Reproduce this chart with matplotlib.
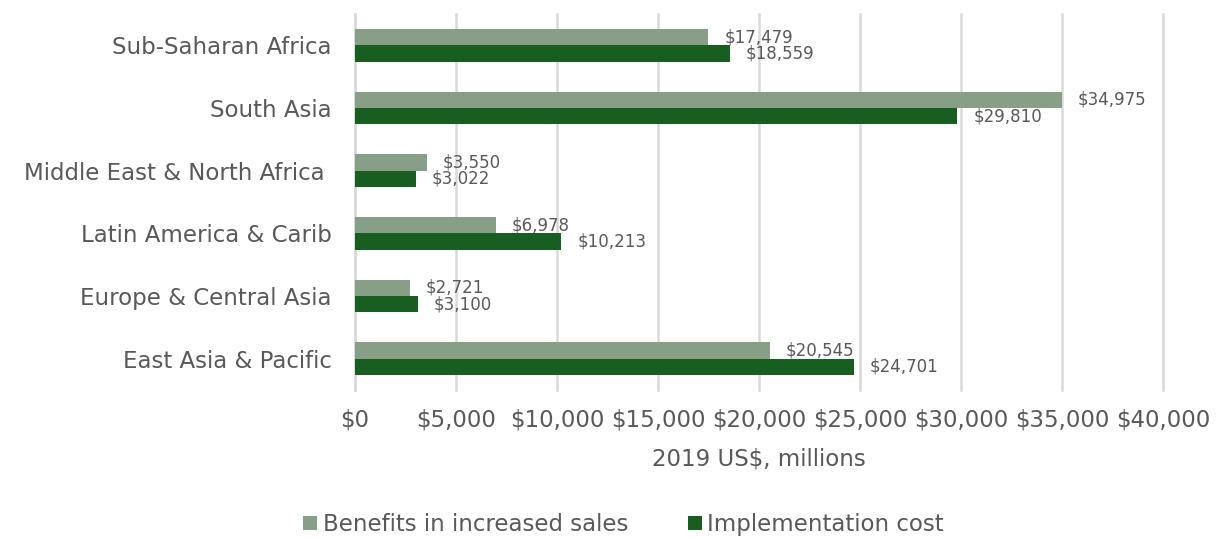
import matplotlib
matplotlib.use("Agg")
import matplotlib.pyplot as plt
import numpy as np

regions = ["East Asia & Pacific", "Europe & Central Asia", "Latin America & Carib",
           "Middle East & North Africa ", "South Asia", "Sub-Saharan Africa"]
benefits = [20545, 2721, 6978, 3550, 34975, 17479]
costs = [24701, 3100, 10213, 3022, 29810, 18559]
x_ticks = [0, 5000, 10000, 15000, 20000, 25000, 30000, 35000, 40000]

light = "#879e87"
dark = "#185e20"
text_c = "#595959"
grid_c = "#d9d9d9"

plt.rcParams["font.family"] = ["DejaVu Sans"]

fig = plt.figure(figsize=(12.18, 5.38), dpi=100)
ax = fig.add_axes([0.2915, 0.2751, 0.6634, 0.699])

y = np.arange(len(regions))
h = 0.26
b1 = ax.barh(y + h / 2, benefits, height=h, color=light, label="Benefits in increased sales", zorder=3)
b2 = ax.barh(y - h / 2, costs, height=h, color=dark, label="Implementation cost", zorder=3)

for bars, vals in ((b1, benefits), (b2, costs)):
    for bar, v in zip(bars, vals):
        ax.annotate(f"${v:,}", (v, bar.get_y() + bar.get_height() / 2),
                    xytext=(16, 0), textcoords="offset pixels",
                    va="center", ha="left", fontsize=12, color=text_c)

ax.set_xlim(0, 40000)
ax.set_ylim(-0.5, len(regions) - 0.5)
ax.set_xticks(x_ticks)
ax.set_xticklabels([f"${t:,}" for t in x_ticks])
ax.set_yticks(y)
ax.set_yticklabels(regions)
ax.tick_params(axis="x", length=0, pad=13, labelsize=16.5, labelcolor=text_c)
ax.tick_params(axis="y", length=0, pad=17, labelsize=16.5, labelcolor=text_c)
ax.xaxis.grid(True, color=grid_c, linewidth=1.8, zorder=0)
for gl in ax.get_xgridlines():
    gl.set_clip_on(False)
for s in ("top", "right", "bottom"):
    ax.spines[s].set_visible(False)
ax.spines["left"].set_color(grid_c)
ax.spines["left"].set_linewidth(1.8)
ax.set_xlabel("2019 US$, millions", fontsize=16.5, color=text_c, labelpad=12)

handles = [b1, b2]
leg = fig.legend(handles, [hh.get_label() for hh in handles], loc="center",
                 bbox_to_anchor=(0.512, 0.025), ncol=2, frameon=False, fontsize=16.5,
                 handlelength=0.6, handleheight=0.6, handletextpad=0.25, columnspacing=2.6)
for t in leg.get_texts():
    t.set_color(text_c)

fig.savefig("out.png", dpi=100)
